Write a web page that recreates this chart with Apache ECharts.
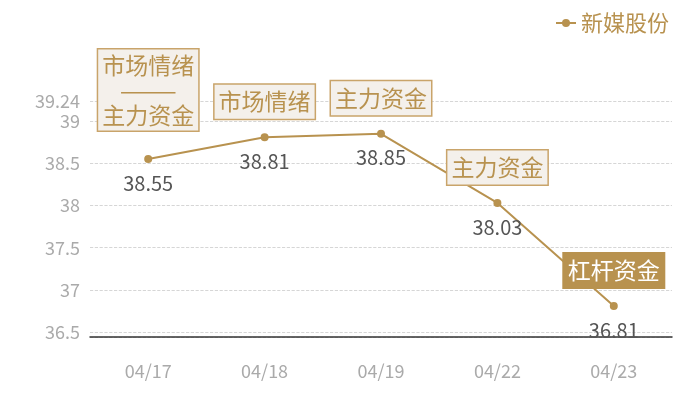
<!DOCTYPE html>
<html><head><meta charset="utf-8">
<script src="https://cdn.jsdelivr.net/npm/echarts@6/dist/echarts.min.js"></script>
<style>html,body{margin:0;padding:0;background:#fff}#c{width:700px;height:400px}</style>
</head><body><div id="c"></div>
<script>
const categories = ['04/17','04/18','04/19','04/22','04/23'];
const prices = [38.55, 38.81, 38.85, 38.03, 36.81];
const tags = ['市场情绪\n———\n主力资金','市场情绪','主力资金','主力资金','杠杆资金'];
const seriesName = '新媒股份';

const gold = '#b8924f';
const font = '"Noto Sans CJK SC", "Noto Sans", sans-serif';
const yMin = Math.min(...prices) * 0.99;
const yMax = Math.max(...prices) * 1.01;

const tagData = prices.map((v, i) => {
  const dark = i === prices.length - 1;
  return {
    value: v,
    label: {
      show: true,
      position: 'top',
      distance: i === 0 ? 28 : 18,
      formatter: tags[i],
      color: dark ? '#fff' : gold,
      backgroundColor: dark ? gold : '#f4f0eb',
      borderColor: dark ? gold : '#c9a46a',
      borderWidth: 1.5,
      padding: i === 0 ? [3, 4, 3, 4] : [4, 4, 4, 4],
      fontSize: 23,
      lineHeight: i === 0 ? 25 : 26,
      fontFamily: font
    }
  };
});

const chart = echarts.init(document.getElementById('c'));
chart.setOption({
  animation: false,
  legend: {
    data: [seriesName],
    right: 26, top: 7,
    itemWidth: 20, itemHeight: 10,
    itemGap: 6,
    textStyle: { color: gold, fontSize: 22, fontFamily: font }
  },
  grid: { left: 90, right: 28, top: 101, bottom: 63 },
  xAxis: {
    type: 'category',
    data: categories,
    axisLine: { lineStyle: { color: '#333', width: 1.5 } },
    axisTick: { show: false },
    axisLabel: { color: '#aaa', fontSize: 18, margin: 25, fontFamily: font }
  },
  yAxis: {
    type: 'value',
    min: yMin,
    max: yMax,
    axisLine: { show: false },
    axisTick: { show: false },
    axisLabel: {
      color: '#aaa', fontSize: 18, margin: 10, fontFamily: font,
      showMinLabel: false,
      formatter: v => String(Math.round(v * 100) / 100)
    },
    splitLine: { lineStyle: { color: '#ccc', type: 'dashed', width: 0.8 } }
  },
  series: [
    {
      name: seriesName,
      type: 'line',
      data: prices,
      color: gold,
      symbol: 'circle',
      symbolSize: 8,
      lineStyle: { color: gold, width: 2 },
      itemStyle: { color: gold },
      label: {
        show: true, position: 'bottom', distance: 10,
        color: '#555', fontSize: 20, fontFamily: font
      },
      z: 3
    },
    {
      name: 'tags',
      type: 'line',
      data: tagData,
      symbol: 'circle',
      symbolSize: 1,
      itemStyle: { color: 'rgba(0,0,0,0)' },
      lineStyle: { opacity: 0 },
      silent: true,
      z: 4
    }
  ]
});
</script></body></html>
